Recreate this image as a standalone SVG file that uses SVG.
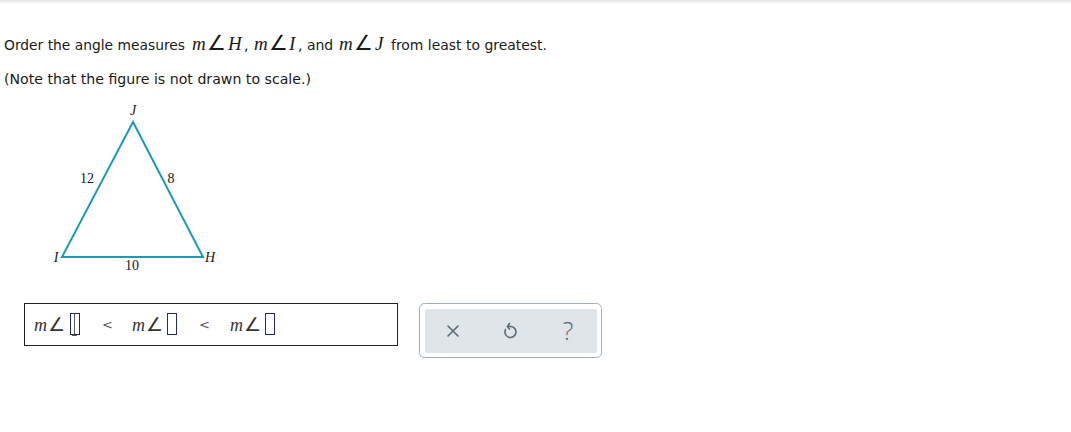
<svg xmlns="http://www.w3.org/2000/svg" width="1071" height="432" viewBox="0 0 1071 432">
<defs>
<linearGradient id="topg" x1="0" y1="0" x2="0" y2="1">
<stop offset="0" stop-color="#e4e4e4"/><stop offset="1" stop-color="#ffffff"/>
</linearGradient>
</defs>
<style>
.q{font-family:"DejaVu Sans",Verdana,sans-serif;font-size:14px;fill:#1a1a1a}
.mi{font-family:"Liberation Serif","DejaVu Serif",serif;font-style:italic;font-size:19px;fill:#1a1a1a}
.ang{font-family:"DejaVu Sans",sans-serif;font-weight:200;font-size:21px;fill:#1a1a1a}
.lbl{font-family:"Liberation Serif","DejaVu Serif",serif;font-size:14px;fill:#1a1a1a}
.vtx{font-family:"Liberation Serif","DejaVu Serif",serif;font-style:italic;font-size:14px;fill:#1a1a1a}
.am{font-family:"Liberation Serif",serif;font-style:italic;font-size:18px;fill:#333}
.aang{font-family:"DejaVu Sans",sans-serif;font-weight:200;font-size:19px;fill:#333}
.lt{font-family:"DejaVu Sans",sans-serif;font-size:13px;fill:#555}
.slot{fill:#fff;stroke:#1c2a6e;stroke-width:1}
.ic{stroke:#5a6b76;stroke-width:1.6;fill:none;stroke-linecap:round;stroke-linejoin:round}
</style>
<rect x="0" y="0" width="1071" height="432" fill="#fff"/>
<rect x="0" y="0" width="1071" height="4" fill="url(#topg)"/>

<g id="question">
<text class="q" x="4" y="50" textLength="181" lengthAdjust="spacingAndGlyphs">Order the angle measures</text>
<text class="mi" x="192" y="50">m</text><text class="ang" x="207" y="50">∠</text><text class="mi" x="228" y="50">H</text><text class="q" x="244" y="50">,</text>
<text class="mi" x="254" y="50">m</text><text class="ang" x="269" y="50">∠</text><text class="mi" x="289" y="50">I</text><text class="q" x="298" y="50">, and</text>
<text class="mi" x="339" y="50">m</text><text class="ang" x="354" y="50">∠</text><text class="mi" x="375" y="50">J</text>
<text class="q" x="391" y="50" textLength="156" lengthAdjust="spacingAndGlyphs">from least to greatest.</text>
<text class="q" x="4" y="84" textLength="307" lengthAdjust="spacingAndGlyphs">(Note that the figure is not drawn to scale.)</text>
</g>

<g id="triangle">
<polygon points="133,122 62,257 203,257" fill="none" stroke="#1b9bb8" stroke-width="2" stroke-linejoin="miter"/>
<text class="vtx" x="133" y="115" text-anchor="middle">J</text>
<text class="vtx" x="56" y="262" text-anchor="middle">I</text>
<text class="vtx" x="210" y="262" text-anchor="middle">H</text>
<text class="lbl" x="87" y="183" text-anchor="middle">12</text>
<text class="lbl" x="171" y="183" text-anchor="middle">8</text>
<text class="lbl" x="132" y="270" text-anchor="middle">10</text>
</g>

<g id="answer">
<rect x="24.5" y="303.5" width="373" height="42" fill="#fff" stroke="#222" stroke-width="1"/>
<text class="am" x="34" y="331">m</text><text class="aang" x="48" y="331">∠</text>
<rect class="slot" x="70.5" y="313.5" width="9" height="21"/>
<path d="M72,313.5 h5 M74.5,313.5 v22 M72,335.5 h5" stroke="#333" stroke-width="0.8" fill="none"/>
<text class="lt" x="102" y="329">&lt;</text>
<text class="am" x="132" y="331">m</text><text class="aang" x="146" y="331">∠</text>
<rect class="slot" x="167.5" y="313.5" width="9" height="21"/>
<text class="lt" x="199" y="329">&lt;</text>
<text class="am" x="230" y="331">m</text><text class="aang" x="244" y="331">∠</text>
<rect class="slot" x="265.5" y="313.5" width="9" height="21"/>
</g>

<g id="buttons">
<rect x="419.5" y="303.5" width="182" height="54" rx="5" fill="#fff" stroke="#9fb0bd" stroke-width="1"/>
<rect x="425" y="309" width="172" height="44" rx="2" fill="#dfe5e8"/>
<path class="ic" d="M448,326 L458,336 M458,326 L448,336"/>
<path class="ic" d="M505.5,329.5 A5.5,5.5 0 1 0 511,326.5 L507.5,326.5"/>
<path class="ic" d="M509.5,323.5 L507.5,326.5 L509.5,329"/>
<text x="568" y="340" text-anchor="middle" font-family="'Open Sans',sans-serif" font-weight="300" font-size="25" fill="#5a6b76">?</text>
</g>
</svg>
